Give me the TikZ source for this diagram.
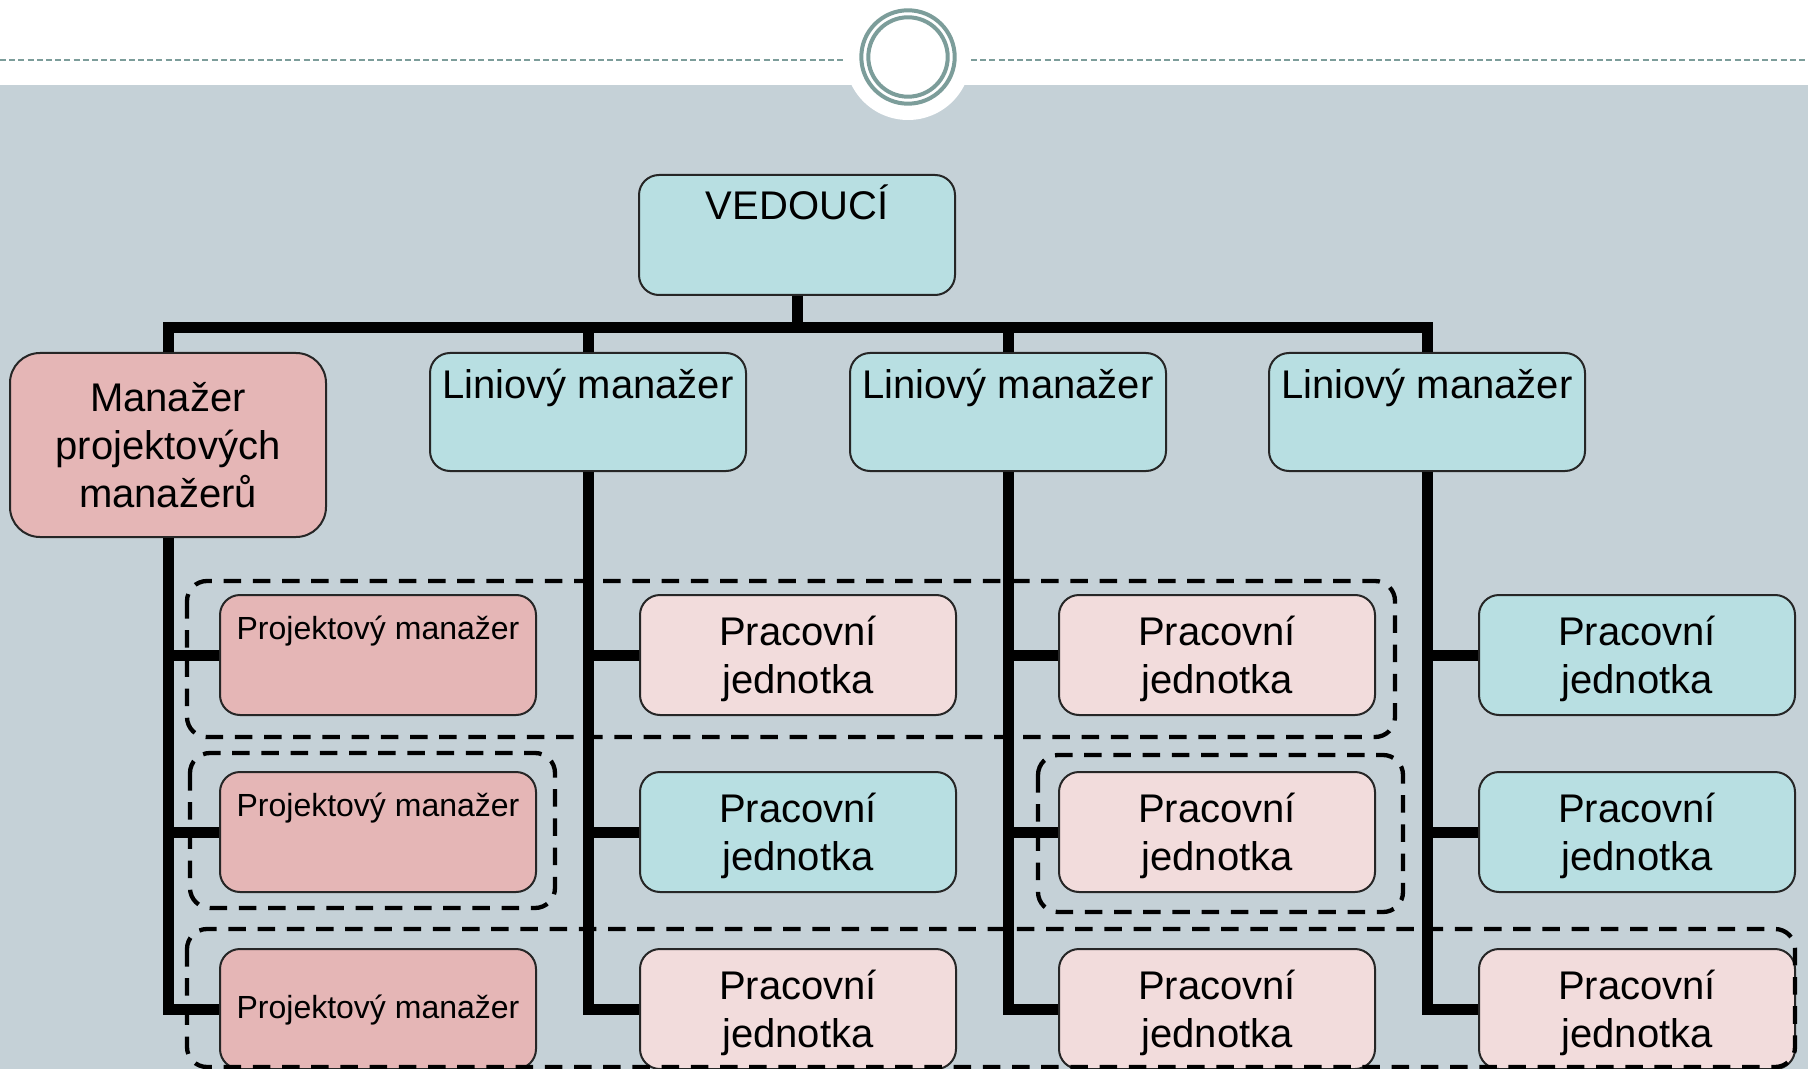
\documentclass[tikz,border=0pt]{standalone}
\usepackage{fontspec}
\setmainfont{Liberation Sans}
\definecolor{bg}{HTML}{C5D1D7}
\definecolor{teal}{HTML}{B8DFE2}
\definecolor{pmpink}{HTML}{E5B6B6}
\definecolor{lpink}{HTML}{F2DCDC}
\definecolor{ringc}{HTML}{7C9D9A}
\newcommand{\pjtext}{\rule{0pt}{19pt}Pracovní\\jednotka}
\begin{document}
\begin{tikzpicture}[x=0.5pt,y=-0.5pt,
  box/.style={draw=black!85, line width=1pt, rounded corners=10pt, inner sep=0pt, align=center, anchor=north west, minimum width=158pt},
  bigf/.style={font=\fontsize{20}{24}\selectfont},
  smallf/.style={font=\fontsize{16}{19.2}\selectfont},
  tealbox/.style={box, fill=teal},
  pmbox/.style={box, fill=pmpink, smallf},
  pjbox/.style={box, bigf, minimum height=60pt},
  conn/.style={line width=5.5pt, line join=miter},
  grp/.style={draw=black, line width=2.15pt, dash pattern=on 8.75pt off 5.85pt, rounded corners=10pt},
  hdr/.style={draw=ringc, line width=1.15pt, dash pattern=on 3pt off 1.6pt},
  ring/.style={draw=ringc, line width=2pt}
]
\useasboundingbox (0,0) rectangle (1808,1069);
% header and background
\fill[white] (0,0) rectangle (1808,85);
\fill[bg] (0,85) rectangle (1808,1069);
\draw[hdr] (0,60) -- (843,60);
\draw[hdr] (971,60) -- (1808,60);
\fill[white] (908,57) circle (31.5pt);
\draw[ring] (908,57) circle (23.35pt);
\draw[ring] (908,57) circle (19.85pt);

% level 1
\node[tealbox, bigf, text height=22.5pt, text depth=37.5pt] (ved) at (638,174) {VEDOUCÍ};
% level 2
\node[box, fill=pmpink, bigf, rounded corners=15pt, minimum height=92pt] (mpm) at (9,352) {Manažer\\projektových\\manažerů};
\node[tealbox, bigf, text height=22.5pt, text depth=36.5pt] (lm1) at (429,352) {Liniový manažer};
\node[tealbox, bigf, text height=22.5pt, text depth=36.5pt] (lm2) at (849,352) {Liniový manažer};
\node[tealbox, bigf, text height=22.5pt, text depth=36.5pt] (lm3) at (1268,352) {Liniový manažer};
% level 3: project managers
\node[pmbox, text height=22.25pt, text depth=37.75pt] (pm1) at (219,594) {Projektový manažer};
\node[pmbox, text height=22.25pt, text depth=37.75pt] (pm2) at (219,771) {Projektový manažer};
\node[pmbox, minimum height=60pt, text height=12.5pt, text depth=3.5pt] (pm3) at (219,948) {Projektový manažer};
% level 3: work units
\node[pjbox, fill=lpink] (a1) at (639,594) {\pjtext};
\node[pjbox, fill=teal]  (a2) at (639,771) {\pjtext};
\node[pjbox, fill=lpink] (a3) at (639,948) {\pjtext};
\node[pjbox, fill=lpink] (b1) at (1058,594) {\pjtext};
\node[pjbox, fill=lpink] (b2) at (1058,771) {\pjtext};
\node[pjbox, fill=lpink] (b3) at (1058,948) {\pjtext};
\node[pjbox, fill=teal]  (c1) at (1478,594) {\pjtext};
\node[pjbox, fill=teal]  (c2) at (1478,771) {\pjtext};
\node[pjbox, fill=lpink] (c3) at (1478,948) {\pjtext};

% connectors
\coordinate (bus) at (ved.south |- 0,327.5);
\draw[conn] (ved.south) -- (bus);
\draw[conn] (mpm.north) |- (bus) -| (lm3.north);
\draw[conn] (lm1.north) -- (lm1.north |- bus);
\draw[conn] (lm2.north) -- (lm2.north |- bus);

\draw[conn] (mpm.south) |- (pm3.west);
\draw[conn] (mpm.south |- pm1.west) -- (pm1.west);
\draw[conn] (mpm.south |- pm2.west) -- (pm2.west);

\draw[conn] (lm1.south) |- (a3.west);
\draw[conn] (lm1.south |- a1.west) -- (a1.west);
\draw[conn] (lm1.south |- a2.west) -- (a2.west);

\draw[conn] (lm2.south) |- (b3.west);
\draw[conn] (lm2.south |- b1.west) -- (b1.west);
\draw[conn] (lm2.south |- b2.west) -- (b2.west);

\draw[conn] (lm3.south) |- (c3.west);
\draw[conn] (lm3.south |- c1.west) -- (c1.west);
\draw[conn] (lm3.south |- c2.west) -- (c2.west);

% project groups
\draw[grp] (187,581) rectangle (1395,737);
\draw[grp] (190,753) rectangle (555,908);
\draw[grp] (1038,755) rectangle (1403,912);
\draw[grp] (187,929) rectangle (1795,1067);
\end{tikzpicture}
\end{document}
